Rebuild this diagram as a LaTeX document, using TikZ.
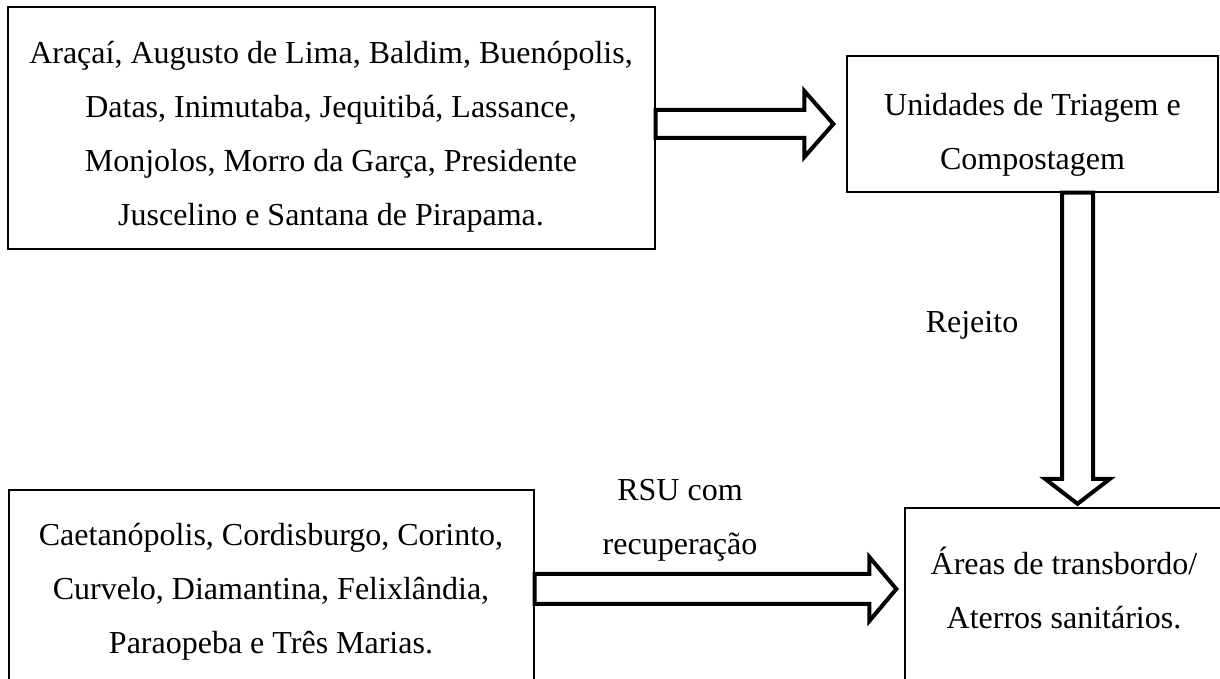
\documentclass[tikz,border=0pt]{standalone}
\usepackage{fontspec}
\setmainfont{Liberation Serif}
\usetikzlibrary{fit,calc}

\tikzset{
  caixa/.style={draw, line width=0.5pt, inner sep=0pt},
  texto/.style={align=center, inner sep=0pt, font=\fontsize{12}{20.25}\selectfont},
  seta/.style={draw, line width=1.5pt, fill=white, line join=miter},
}

\begin{document}
\begin{tikzpicture}[x=0.375pt, y=-0.375pt]
  \useasboundingbox (0,0) rectangle (1220,679);
  \clip (0,0) rectangle (1220,679);
  % boxes (the two lower ones run past the page edge)
  \node[caixa, fit={(8,7) (655,249)}] (origA) {};
  \node[caixa, fit={(847,56) (1218,192)}] (triagem) {};
  \node[caixa, fit={(9,490) (534,688)}] (origC) {};
  \node[caixa, fit={(905,508) (1240,700)}] (aterro) {};
  % box texts
  \node[texto] (origA-txt) at (331,137)
    {Araçaí, Augusto de Lima, Baldim, Buenópolis,\\
     Datas, Inimutaba, Jequitibá, Lassance,\\
     Monjolos, Morro da Garça, Presidente\\
     Juscelino e Santana de Pirapama.};
  \node[texto] (triagem-txt) at (1032.5,135)
    {Unidades de Triagem e\\ Compostagem};
  \node[texto] (origC-txt) at (271,592)
    {Caetanópolis, Cordisburgo, Corinto,\\
     Curvelo, Diamantina, Felixlândia,\\
     Paraopeba e Três Marias.};
  \node[texto] (aterro-txt) at (1064,588)
    {Áreas de transbordo/\\ Aterros sanitários.};
  % flow labels
  \node[texto] (rejeito) at (972,325) {Rejeito};
  \node[texto] (rsu) at (680,520) {RSU com\\ recuperação};
  % block arrow: origA -> triagem
  \coordinate (t1) at (origA.east |- triagem.west);
  \coordinate (p1) at ($(triagem.west)+(-13,0)$);
  \draw[seta] ($(t1)+(0,-14)$) -- ($(p1)+(-29,-14)$) -- ($(p1)+(-29,-33)$)
    -- (p1) -- ($(p1)+(-29,33)$) -- ($(p1)+(-29,14)$) -- ($(t1)+(0,14)$) -- cycle;
  % block arrow: triagem -> aterro (rejeito)
  \coordinate (t2) at ($(triagem.south)+(45,0)$);
  \coordinate (p2) at ($(t2 |- aterro.north)+(0,-3.5)$);
  \draw[seta] ($(t2)+(-15.5,0)$) -- ($(p2)+(-15.5,-25)$) -- ($(p2)+(-32.5,-25)$)
    -- (p2) -- ($(p2)+(32.5,-25)$) -- ($(p2)+(15.5,-25)$) -- ($(t2)+(15.5,0)$) -- cycle;
  % block arrow: origC -> aterro (RSU com recuperação)
  \coordinate (t3) at (origC.east);
  \coordinate (p3) at ($(origC.east -| aterro.west)+(-8,0)$);
  \draw[seta] ($(t3)+(0,-15)$) -- ($(p3)+(-27,-15)$) -- ($(p3)+(-27,-32)$)
    -- (p3) -- ($(p3)+(-27,32)$) -- ($(p3)+(-27,15)$) -- ($(t3)+(0,15)$) -- cycle;
\end{tikzpicture}
\end{document}
